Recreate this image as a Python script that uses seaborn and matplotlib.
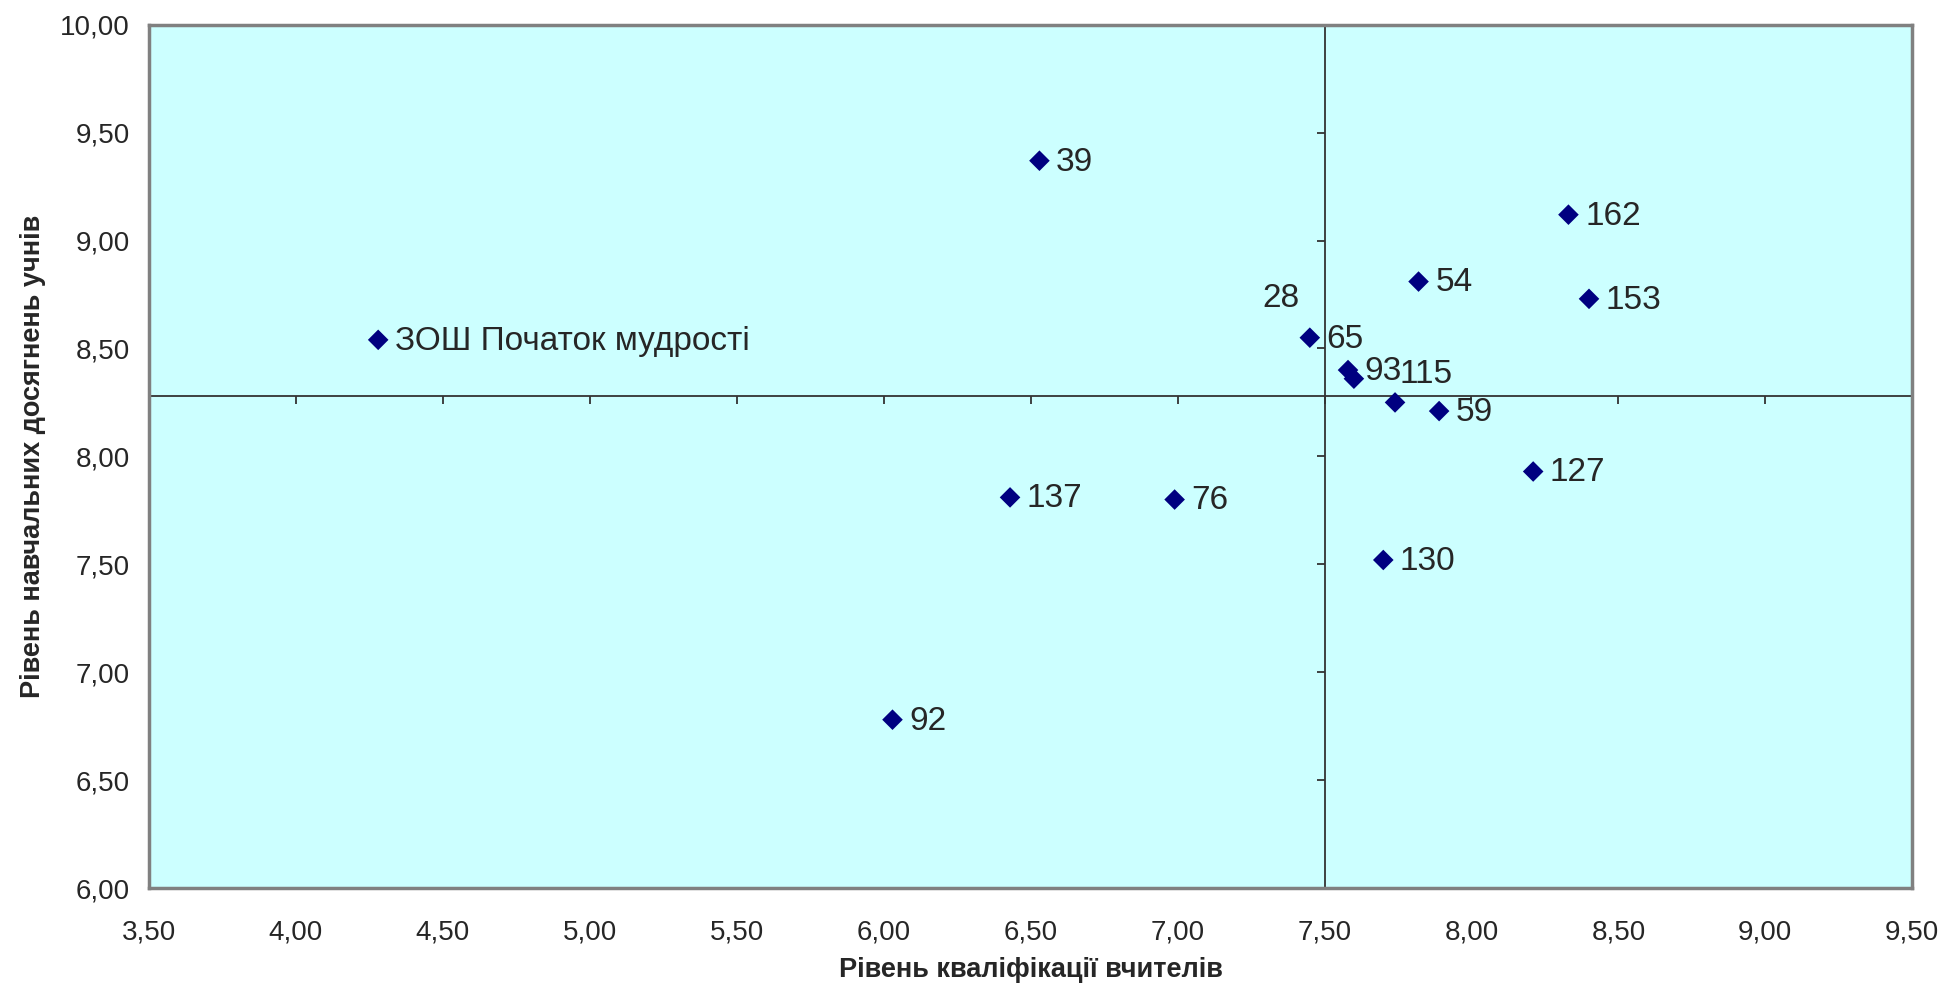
import matplotlib
matplotlib.use("Agg")
import matplotlib.pyplot as plt
import matplotlib.ticker as mticker
import seaborn as sns
import pandas as pd

# дані: рівень кваліфікації вчителів (x) та рівень досягнень учнів (y)
schools = ["39", "162", "54", "153", "ЗОШ Початок мудрості", "65", "93", "28",
           "115", "59", "127", "130", "137", "76", "92"]
qualif = [6.53, 8.33, 7.82, 8.40, 4.28, 7.45, 7.58, 7.60, 7.74, 7.89, 8.21,
          7.70, 6.43, 6.99, 6.03]
achieve = [9.37, 9.12, 8.81, 8.73, 8.54, 8.55, 8.40, 8.36, 8.25, 8.21, 7.93,
           7.52, 7.81, 7.80, 6.78]
# зсув підписів (в пунктах)
lab_dx = [12, 12, 12, 12, 12, 12, 12, -66, 3, 12, 12, 12, 12, 12, 12]
lab_dy = [-1, -1, -1, -1, -1, -1, -1, 58, 20, -1, -1, -1, -1, -1, -1]

x_cross = 7.5
y_cross = 8.28

df = pd.DataFrame({"school": schools, "x": qualif, "y": achieve})

sns.set_style("white")
plt.rcParams["font.family"] = ["Liberation Sans", "DejaVu Sans"]

fig = plt.figure(figsize=(19.42, 9.9), dpi=100)
ax = fig.add_axes([0.0767, 0.103, 0.908, 0.872])
ax.set_facecolor("#CCFFFF")

ax.axvline(x_cross, color="#333333", lw=1.3, zorder=1)
ax.axhline(y_cross, color="#333333", lw=1.3, zorder=1)

xt = [3.5 + 0.5 * i for i in range(13)]
yt = [6.0 + 0.5 * i for i in range(9)]
# маленькі риски на осях, що перетинаються
ax.plot(xt, [y_cross] * len(xt), ls="none", marker=3, ms=6, mew=1.3, color="#333333", zorder=1)
ax.plot([x_cross] * len(yt), yt, ls="none", marker=0, ms=6, mew=1.3, color="#333333", zorder=1)

sns.scatterplot(data=df, x="x", y="y", marker="D", s=110, color="#000080",
                edgecolor="none", ax=ax, zorder=3, legend=False)

for i, row in df.iterrows():
    ax.annotate(row["school"], (row["x"], row["y"]), xytext=(lab_dx[i], lab_dy[i]),
                textcoords="offset points", ha="left", va="center", fontsize=24, zorder=4)

ax.set_xlim(3.5, 9.5)
ax.set_ylim(6.0, 10.0)
ax.set_xticks(xt)
ax.set_yticks(yt)
fmt = mticker.FuncFormatter(lambda v, p: f"{v:.2f}".replace(".", ","))
ax.xaxis.set_major_formatter(fmt)
ax.yaxis.set_major_formatter(fmt)
ax.tick_params(axis="x", length=0, pad=23, labelsize=20)
ax.tick_params(axis="y", length=0, pad=14, labelsize=20)

for s in ax.spines.values():
    s.set_color("#808080")
    s.set_linewidth(2.5)

ax.set_xlabel("Рівень кваліфікації вчителів", fontsize=19.5, fontweight="bold", labelpad=8)
ax.set_ylabel("Рівень навчальних досягнень учнів", fontsize=19.5, fontweight="bold", labelpad=10)

fig.savefig("out.png", dpi=100)
